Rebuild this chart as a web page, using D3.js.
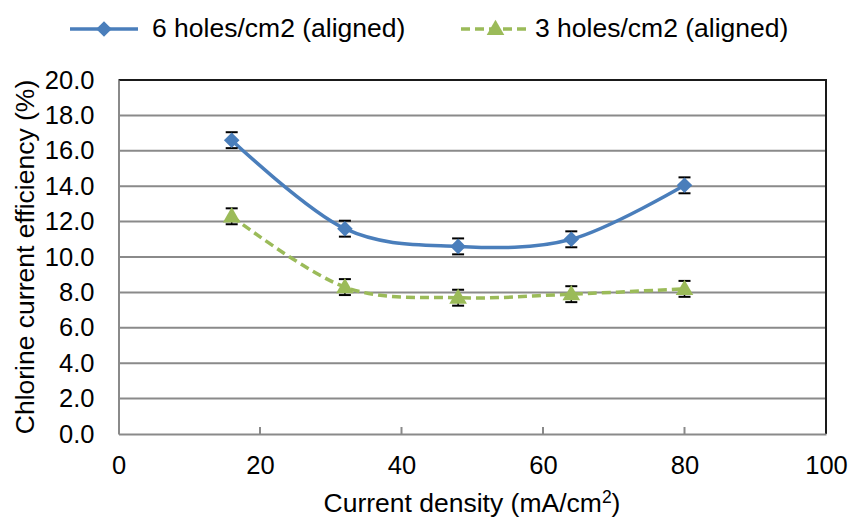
<!DOCTYPE html>
<html>
<head>
<meta charset="utf-8">
<script src="https://cdn.jsdelivr.net/npm/d3@7"></script>
<style>
  html, body { margin: 0; padding: 0; background: #fff; }
  svg { display: block; font-family: "Liberation Sans", Arial, sans-serif; }
</style>
</head>
<body>
<svg id="chart" width="849" height="518"></svg>
<script>
// Current density (mA/cm2)
const currentDensity = [16, 32, 48, 64, 80];
// Chlorine current efficiency (%) for each hole layout
const sixHoles = [16.6, 11.6, 10.6, 11.0, 14.05];
const threeHoles = [12.3, 8.3, 7.7, 7.9, 8.2];
// Standard error shown as error bars
const sixHolesErr = [0.45, 0.45, 0.45, 0.45, 0.45];
const threeHolesErr = [0.45, 0.45, 0.45, 0.45, 0.45];
const seriesNames = ["6 holes/cm2 (aligned)", "3 holes/cm2 (aligned)"];
const xTicks = [0, 20, 40, 60, 80, 100];
const yTicks = [0, 2, 4, 6, 8, 10, 12, 14, 16, 18, 20];

const svg = d3.select("#chart");
const plotL = 118.5, plotR = 826, plotT = 80, plotB = 434;
const fontSize = 26.5, tickFont = 25.5;

const x = d3.scaleLinear().domain([0, 100]).range([plotL, plotR]);
const y = d3.scaleLinear().domain([0, 20]).range([plotB, plotT]);

const blue = "#4a7ebb", green = "#9bbb59", gridGray = "#8a8a8a";

// Horizontal gridlines
svg.append("g").selectAll("line").data(yTicks.filter(d => d > 0 && d < 20)).join("line")
  .attr("x1", plotL).attr("x2", plotR)
  .attr("y1", d => y(d)).attr("y2", d => y(d))
  .attr("stroke", gridGray).attr("stroke-width", 2);

// Plot area border (top and right)
svg.append("path")
  .attr("d", `M${plotL},${y(20)}H${plotR}V${plotB}`)
  .attr("fill", "none").attr("stroke", "#1a1a1a").attr("stroke-width", 2);

// Y axis
const yAxis = d3.axisLeft(y).tickValues(yTicks).tickSize(0).tickPadding(24)
  .tickFormat(d3.format(".1f"));
const gy = svg.append("g").attr("transform", `translate(${plotL},0)`).call(yAxis);
gy.select(".domain").attr("stroke", gridGray).attr("stroke-width", 2);
gy.selectAll("text").attr("font-size", tickFont).attr("fill", "#000")
  .attr("font-family", "Liberation Sans, Arial, sans-serif");

// X axis with inward ticks
const xAxis = d3.axisBottom(x).tickValues(xTicks).tickSize(0).tickPadding(22);
const gx = svg.append("g").attr("transform", `translate(0,${plotB})`).call(xAxis);
gx.select(".domain").attr("stroke", gridGray).attr("stroke-width", 2);
gx.selectAll("text").attr("font-size", tickFont).attr("fill", "#000")
  .attr("font-family", "Liberation Sans, Arial, sans-serif");
svg.append("g").selectAll("line").data(xTicks.slice(1, -1)).join("line")
  .attr("x1", d => x(d)).attr("x2", d => x(d))
  .attr("y1", plotB).attr("y2", plotB - 7)
  .attr("stroke", gridGray).attr("stroke-width", 2);

// Axis titles
const xt = svg.append("text").attr("x", 472).attr("y", 512)
  .attr("text-anchor", "middle").attr("font-size", fontSize).attr("fill", "#000");
xt.append("tspan").text("Current density (mA/cm");
xt.append("tspan").attr("font-size", 17.5).attr("dy", -9).text("2");
xt.append("tspan").attr("dy", 9).text(")");

svg.append("text")
  .attr("transform", `translate(34,${(plotT + plotB) / 2}) rotate(-90)`)
  .attr("text-anchor", "middle").attr("font-size", fontSize).attr("fill", "#000")
  .text("Chlorine current efficiency (%)");

const line = d3.line().x(d => x(d[0])).y(d => y(d[1])).curve(d3.curveCardinal.tension(0));

const series = [
  { name: seriesNames[0], vals: sixHoles, err: sixHolesErr, color: blue, dash: null, shape: d3.symbolDiamond2, size: 155, dy: 0 },
  { name: seriesNames[1], vals: threeHoles, err: threeHolesErr, color: green, dash: "9,5", shape: d3.symbolTriangle, size: 135, dy: 1 }
];

series.forEach(s => {
  const pts = currentDensity.map((c, i) => [c, s.vals[i], s.err[i]]);
  svg.append("path").datum(pts)
    .attr("d", line).attr("fill", "none")
    .attr("stroke", s.color).attr("stroke-width", 3.5)
    .attr("stroke-dasharray", s.dash);

  // Error bars
  const eb = svg.append("g");
  pts.forEach(p => {
    const cx = x(p[0]), y1 = y(p[1] + p[2]), y2 = y(p[1] - p[2]);
    eb.append("line").attr("x1", cx).attr("x2", cx).attr("y1", y1).attr("y2", y2)
      .attr("stroke", "#000").attr("stroke-width", 1.5);
    [y1, y2].forEach(yy => eb.append("line")
      .attr("x1", cx - 6).attr("x2", cx + 6).attr("y1", yy).attr("y2", yy)
      .attr("stroke", "#000").attr("stroke-width", 2));
  });

  // Markers
  const sym = d3.symbol().type(s.shape).size(s.size);
  svg.append("g").selectAll("path").data(pts).join("path")
    .attr("d", sym)
    .attr("transform", d => `translate(${x(d[0])},${y(d[1]) + s.dy})`)
    .attr("fill", s.color);
});

// Legend
const legend = [
  { s: series[0], x0: 70, x1: 138, tx: 152 },
  { s: series[1], x0: 461, x1: 530, tx: 535 }
];
legend.forEach(l => {
  const g = svg.append("g");
  g.append("line").attr("x1", l.x0).attr("x2", l.x1).attr("y1", 29).attr("y2", 29)
    .attr("stroke", l.s.color).attr("stroke-width", 3.5)
    .attr("stroke-dasharray", l.s.dash);
  const sym = d3.symbol().type(l.s.shape).size(l.s.size);
  g.append("path").attr("d", sym)
    .attr("transform", `translate(${(l.x0 + l.x1) / 2},${29 + l.s.dy})`)
    .attr("fill", l.s.color);
  g.append("text").attr("x", l.tx).attr("y", 37).attr("font-size", fontSize).attr("fill", "#000")
    .text(l.s.name);
});
</script>
</body>
</html>
